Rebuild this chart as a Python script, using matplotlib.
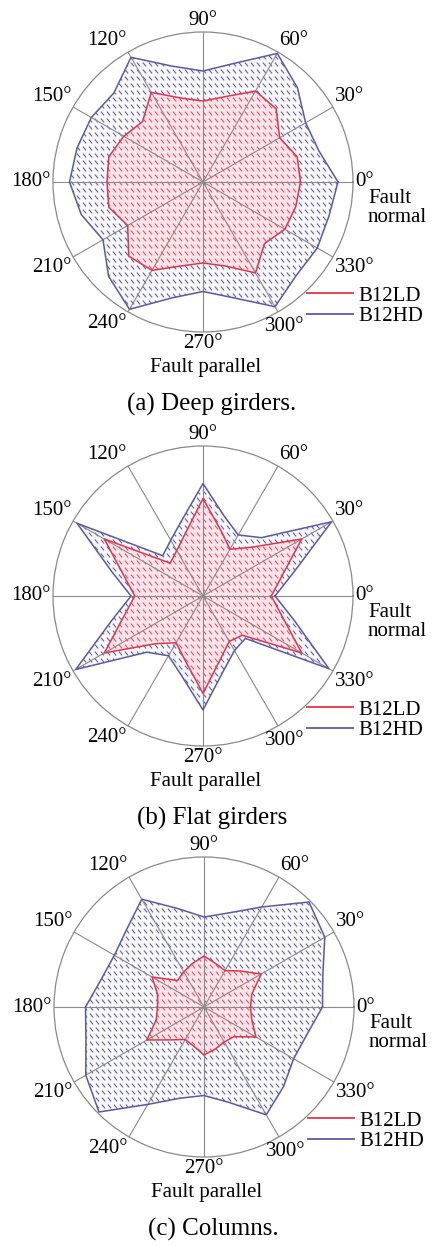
import matplotlib

matplotlib.use("Agg")
import matplotlib.pyplot as plt  # noqa: E402
import numpy as np  # noqa: E402
from matplotlib.collections import LineCollection  # noqa: E402
from matplotlib.lines import Line2D  # noqa: E402

plt.rcParams["font.family"] = ["Liberation Serif", "DejaVu Serif"]

# --- data: incidence angle (deg) and normalised response ---
ANGLES = [0, 15, 30, 45, 60, 75, 90, 105, 120, 135, 150, 165,
          180, 195, 210, 225, 240, 255, 270, 285, 300, 315, 330, 345]
TICK_ANGLES = [0, 30, 60, 90, 120, 150, 180, 210, 240, 270, 300, 330]

DEEP_LD = [0.65, 0.65, 0.59, 0.69, 0.70, 0.59, 0.54, 0.58, 0.69, 0.57, 0.61, 0.65,
           0.64, 0.65, 0.58, 0.70, 0.68, 0.58, 0.54, 0.58, 0.70, 0.58, 0.63, 0.64]
DEEP_HD = [0.90, 0.80, 0.79, 0.89, 0.99, 0.82, 0.74, 0.80, 0.96, 0.84, 0.86, 0.87,
           0.89, 0.84, 0.77, 0.89, 0.98, 0.80, 0.73, 0.80, 0.96, 0.88, 0.88, 0.87]

FLAT_LD = [0.455, 0.55, 0.76, 0.46, 0.36, 0.455, 0.65, 0.44, 0.35, 0.31, 0.76, 0.55,
           0.455, 0.55, 0.76, 0.45, 0.36, 0.45, 0.65, 0.44, 0.35, 0.37, 0.76, 0.55]
FLAT_HD = [0.48, 0.63, 0.99, 0.55, 0.47, 0.55, 0.75, 0.53, 0.43, 0.38, 0.97, 0.63,
           0.48, 0.63, 0.98, 0.53, 0.46, 0.55, 0.76, 0.52, 0.42, 0.40, 0.97, 0.63]

COL_LD = [0.31, 0.33, 0.44, 0.34, 0.28, 0.30, 0.34, 0.30, 0.27, 0.25, 0.40, 0.32,
          0.31, 0.33, 0.44, 0.31, 0.25, 0.27, 0.32, 0.29, 0.27, 0.28, 0.40, 0.33]
COL_HD = [0.79, 0.82, 0.93, 0.99, 0.77, 0.65, 0.60, 0.68, 0.83, 0.73, 0.69, 0.71,
          0.79, 0.815, 0.91, 0.99, 0.75, 0.63, 0.59, 0.66, 0.83, 0.75, 0.69, 0.71]

CAPTIONS = ["(a) Deep girders.", "(b) Flat girders", "(c) Columns."]

# --- style ---
RED = "#e4344c"
BLUE = "#5a5aa6"
RED_FILL = "#fde6e9"
BLUE_FILL = "#f8f8fd"
RED_DASH = "#e2506a"
BLUE_DASH = "#6262a4"
GRID = "#8a8a8a"
FS = 15

W, H = 432, 1247   # figure size, px
R_PX = 150         # plot radius, px
CENTERS = [(203, 182), (203, 596), (204, 1007)]

fig = plt.figure(figsize=(W / 100, H / 100), dpi=100, facecolor="white")


def add_dashes(ax, patch, color, z):
    """Short '\\' strokes on a 6x7 px lattice, clipped to the filled area."""
    span = 2 * R_PX
    gx, gy = np.meshgrid(np.arange(0.005, 1, 6 / span), np.arange(0.005, 1, 7 / span))
    hx, hy = 1.6 / span, 1.9 / span
    p0 = np.column_stack([gx.ravel() - hx, gy.ravel() + hy])
    p1 = np.column_stack([gx.ravel() + hx, gy.ravel() - hy])
    lc = LineCollection(np.stack([p0, p1], axis=1), colors=color, linewidths=0.8,
                        transform=ax.transAxes, zorder=z)
    ax.add_collection(lc, autolim=False)
    lc.set_clip_path(patch)


def draw_panel(center, ld, hd, caption):
    cx, cy = center
    rect = [(cx - R_PX) / W, 1 - (cy + R_PX) / H, 2 * R_PX / W, 2 * R_PX / H]
    ax = fig.add_axes(rect, projection="polar")
    theta = np.deg2rad(ANGLES + ANGLES[:1])

    z = 1.0
    for vals, fill, dash in ((hd, BLUE_FILL, BLUE_DASH), (ld, RED_FILL, RED_DASH)):
        poly, = ax.fill(theta, list(vals) + [vals[0]], facecolor=fill,
                        edgecolor="none", zorder=z)
        add_dashes(ax, poly, dash, z + 0.1)
        z += 0.2
    ax.plot(theta, list(hd) + [hd[0]], color=BLUE, lw=1.1, zorder=3)
    ax.plot(theta, list(ld) + [ld[0]], color=RED, lw=1.1, zorder=3)

    ax.set_ylim(0, 1)
    ax.set_yticks([])
    ax.set_xticks(np.deg2rad(TICK_ANGLES))
    ax.set_xticklabels([])
    ax.tick_params(axis="x", length=0)
    ax.xaxis.grid(True, color=GRID, lw=0.8)
    ax.set_axisbelow(False)
    ax.spines["polar"].set_color(GRID)
    ax.spines["polar"].set_linewidth(0.9)

    # angle labels just outside the rim
    for a in TICK_ANGLES:
        t = np.deg2rad(a)
        c, s = np.cos(t), np.sin(t)
        ha = "left" if c > 0.1 else "right" if c < -0.1 else "center"
        va = "bottom" if s > 0.1 else "top" if s < -0.1 else "center"
        dx, dy = 1.5 * c, 1.5 * s
        if a == 300:  # pushed clear of the legend
            ha, dx, dy = "center", 5, -4
        ax.annotate(f"{a}°", xy=(t, 1.0), xytext=(dx, dy), textcoords="offset points",
                    ha=ha, va=va, fontsize=FS, annotation_clip=False)

    ax.text(1.05, 0.477, "Fault\nnormal", transform=ax.transAxes, ha="left", va="top",
            fontsize=FS, linespacing=1.0)
    ax.text(0.51, -0.117, "Fault parallel", transform=ax.transAxes, ha="center",
            va="center", fontsize=FS)
    ax.text(0.53, -0.24, caption, transform=ax.transAxes, ha="center", va="center",
            fontsize=18)

    handles = [Line2D([], [], color=RED, lw=1.3, label="B12LD"),
               Line2D([], [], color=BLUE, lw=1.3, label="B12HD")]
    ax.legend(handles=handles, loc="upper left", bbox_to_anchor=(0.847, 0.153),
              bbox_transform=ax.transAxes, frameon=False, borderpad=0,
              borderaxespad=0, handlelength=2.2, handletextpad=0.25,
              labelspacing=0.05, fontsize=FS)


for center, ld, hd, caption in zip(CENTERS, (DEEP_LD, FLAT_LD, COL_LD),
                                   (DEEP_HD, FLAT_HD, COL_HD), CAPTIONS):
    draw_panel(center, ld, hd, caption)

fig.savefig("out.png", dpi=100, facecolor="white")
